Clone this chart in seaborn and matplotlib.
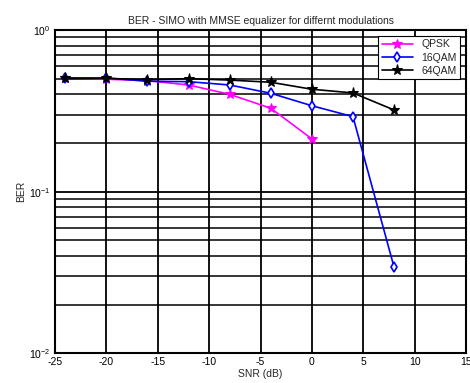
import matplotlib
matplotlib.use("Agg")
import matplotlib.pyplot as plt
import seaborn as sns
import numpy as np
import pandas as pd
from matplotlib.ticker import LogLocator, FixedLocator

sns.set_theme(style="white")
plt.rcParams['font.family'] = ['Liberation Sans', 'DejaVu Sans']
plt.rcParams['axes.unicode_minus'] = False

snr = [-24, -20, -16, -12, -8, -4, 0, 4, 8]
qpsk_snr = [-24, -20, -16, -12, -8, -4, 0]
qpsk = [0.505, 0.496, 0.486, 0.457, 0.400, 0.328, 0.212]
qam16 = [0.505, 0.505, 0.482, 0.479, 0.457, 0.406, 0.340, 0.291, 0.0341]
qam64 = [0.502, 0.502, 0.493, 0.500, 0.490, 0.475, 0.430, 0.408, 0.320]

df = pd.concat([
    pd.DataFrame({"SNR": qpsk_snr, "BER": qpsk, "mod": "QPSK"}),
    pd.DataFrame({"SNR": snr, "BER": qam16, "mod": "16QAM"}),
    pd.DataFrame({"SNR": snr, "BER": qam64, "mod": "64QAM"}),
])

fig = plt.figure(figsize=(4.7, 3.83), dpi=100)
ax = fig.add_axes([55/470, 1-353.3/383, (466-55)/470, (353.3-30)/383])

palette = {"QPSK": "#ff00ff", "16QAM": "#0000ff", "64QAM": "#000000"}
styles = {"QPSK": dict(marker="*", mfc="#ff00ff", ms=7),
          "16QAM": dict(marker="d", mfc="white", ms=5, mew=1.2),
          "64QAM": dict(marker="*", mfc="black", ms=8)}
for m in ["QPSK", "16QAM", "64QAM"]:
    sub = df[df["mod"] == m]
    sns.lineplot(data=sub, x="SNR", y="BER", ax=ax, color=palette[m], lw=1.2,
                 label=m, mec=palette[m], zorder=3, **styles[m])

ax.set_yscale("log")
ax.set_xlim(-25, 15)
ax.set_ylim(1e-2, 1)
ax.set_xticks(np.arange(-25, 16, 5))
ax.yaxis.set_major_locator(FixedLocator([1e-2, 1e-1, 1]))
ax.yaxis.set_minor_locator(LogLocator(base=10, subs=np.arange(2, 10)))
ax.set_axisbelow(True)
ax.grid(True, which="major", color="black", lw=1.3)
ax.grid(True, which="minor", axis="y", color="black", lw=1.1)
for s in ax.spines.values():
    s.set_color("black")
    s.set_linewidth(1.5)
ax.tick_params(axis="both", which="both", labelsize=7.5, length=0, colors="black", pad=3)
ax.set_xlabel("SNR (dB)", fontsize=7.5, labelpad=1)
ax.set_ylabel("BER", fontsize=7.5, labelpad=2)
ax.set_title("BER - SIMO with MMSE equalizer for differnt modulations", fontsize=7.5, pad=4)
leg = ax.legend(loc="upper right", fontsize=7.5, frameon=True, fancybox=False,
                edgecolor="black", framealpha=1, borderpad=0.35, handlelength=3,
                labelspacing=0.3, borderaxespad=0.55)
leg.get_frame().set_linewidth(0.8)

fig.savefig("out.png", dpi=100, facecolor="white")
